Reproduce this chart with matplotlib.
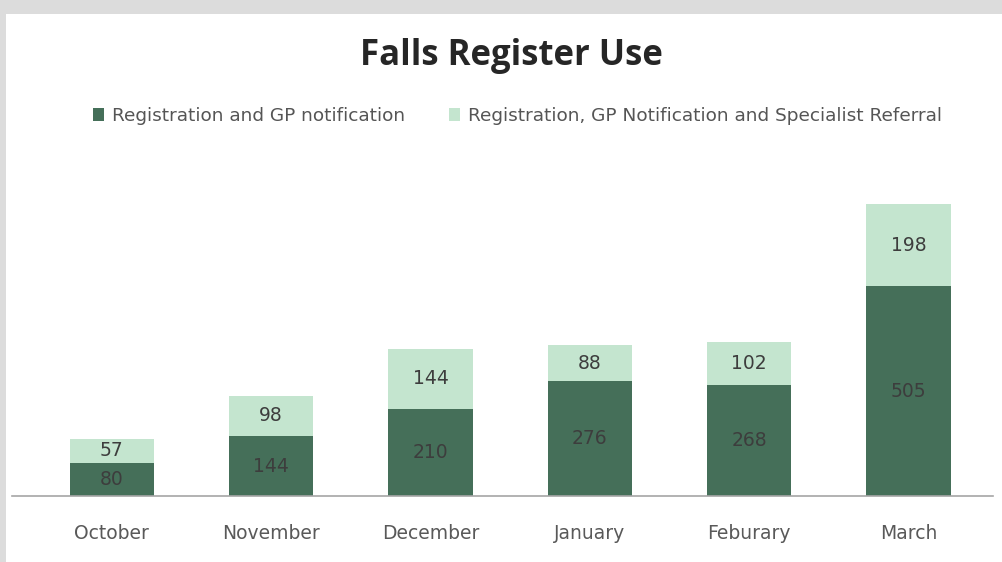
import matplotlib.pyplot as plt
from matplotlib.patches import Rectangle

months = ["October", "November", "December", "January", "Feburary", "March"]
gp_notification = [80, 144, 210, 276, 268, 505]
specialist_referral = [57, 98, 144, 88, 102, 198]

DARK = "#456f59"
LIGHT = "#c4e5cf"

fig = plt.figure(figsize=(10.03, 5.62), dpi=100)
fig.patch.set_facecolor("#dcdcdc")
# white card with a soft shadow edge like the screenshot
fig.patches.append(Rectangle((0.006, 0.0), 0.994, 0.975, transform=fig.transFigure,
                             facecolor="white", edgecolor="none", zorder=-5))

ax = fig.add_axes([0.012, 0.1174, 0.978, 0.591])
ax.set_zorder(2)
ax.set_facecolor("none")
x = list(range(len(months)))
width = 0.53
ax.bar(x, gp_notification, width=width, color=DARK, label="Registration and GP notification")
ax.bar(x, specialist_referral, width=width, bottom=gp_notification, color=LIGHT,
       label="Registration, GP Notification and Specialist Referral")

for i in x:
    ax.text(i, gp_notification[i] / 2, str(gp_notification[i]), ha="center", va="center",
            fontsize=13.5, color="#3d3d3d")
    ax.text(i, gp_notification[i] + specialist_referral[i] / 2, str(specialist_referral[i]),
            ha="center", va="center", fontsize=13.5, color="#3d3d3d")

ax.set_xlim(-0.627, 5.53)
ax.set_ylim(0, 800)
ax.set_yticks([])
ax.set_xticks(x)
ax.set_xticklabels(months, fontsize=13.5, color="#595959")
ax.tick_params(axis="x", length=0, pad=20)
for s in ["top", "right", "left"]:
    ax.spines[s].set_visible(False)
ax.spines["bottom"].set_color("#a6a6a6")
ax.spines["bottom"].set_linewidth(1.2)

fig.text(0.51, 0.9, "Falls Register Use", ha="center", va="center",
         fontsize=25, fontweight="bold", color="#262626", family="Open Sans")
fig.legend(loc="center", bbox_to_anchor=(0.516, 0.793), ncol=2, frameon=False,
           fontsize=13.3, handlelength=0.6, handleheight=0.7, columnspacing=2.4,
           handletextpad=0.4, labelcolor="#555555")

fig.savefig("out.png", dpi=100)
